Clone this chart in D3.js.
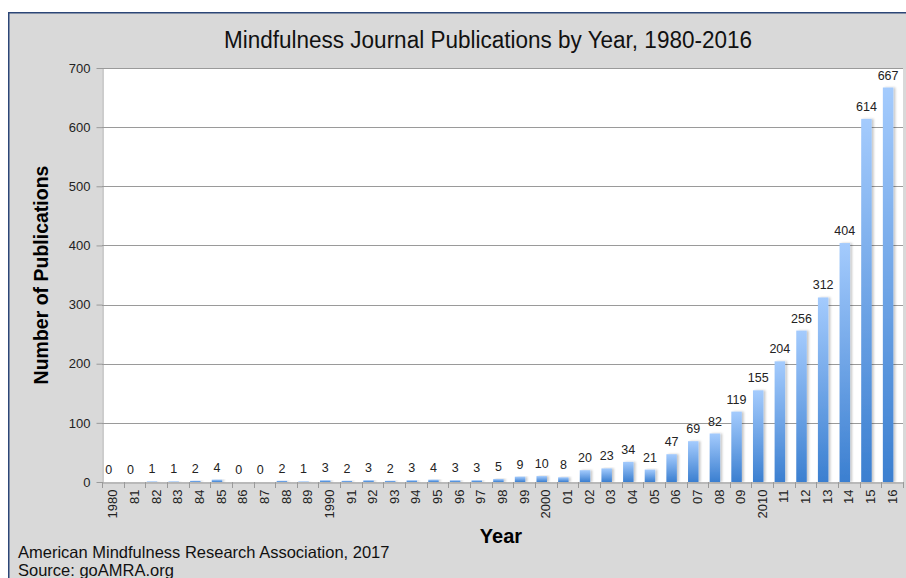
<!DOCTYPE html>
<html>
<head>
<meta charset="utf-8">
<script src="https://cdn.jsdelivr.net/npm/d3@7/dist/d3.min.js"></script>
<style>
  html, body { margin: 0; padding: 0; background: #ffffff; }
  svg { display: block; }
  text { font-family: "Liberation Sans", Arial, sans-serif; }
</style>
</head>
<body>
<svg id="chart" width="906" height="578"></svg>
<script>
// Publication counts per year, 1980-2016
const years = [1980, 1981, 1982, 1983, 1984, 1985, 1986, 1987, 1988, 1989,
               1990, 1991, 1992, 1993, 1994, 1995, 1996, 1997, 1998, 1999,
               2000, 2001, 2002, 2003, 2004, 2005, 2006, 2007, 2008, 2009,
               2010, 2011, 2012, 2013, 2014, 2015, 2016];
const yearLabels = ["1980", "81", "82", "83", "84", "85", "86", "87", "88", "89",
                    "1990", "91", "92", "93", "94", "95", "96", "97", "98", "99",
                    "2000", "01", "02", "03", "04", "05", "06", "07", "08", "09",
                    "2010", "11", "12", "13", "14", "15", "16"];
const publications = [0, 0, 1, 1, 2, 4, 0, 0, 2, 1,
                      3, 2, 3, 2, 3, 4, 3, 3, 5, 9,
                      10, 8, 20, 23, 34, 21, 47, 69, 82, 119,
                      155, 204, 256, 312, 404, 614, 667];
const yTicks = [0, 100, 200, 300, 400, 500, 600, 700];

const svg = d3.select("#chart");
const W = 906, H = 578;
const plot = { left: 102, right: 903, top: 68, bottom: 482 };

// Gray chart frame with dark border on top and left
svg.append("rect").attr("x", 8).attr("y", 12).attr("width", W - 8).attr("height", H - 12)
  .attr("fill", "#d9d9d9");
svg.append("path").attr("d", `M8.75,${H} V12.75 H${W}`)
  .attr("fill", "none").attr("stroke", "#2c4677").attr("stroke-width", 1.5);

// Plot area
svg.append("rect").attr("x", plot.left).attr("y", plot.top)
  .attr("width", plot.right - plot.left).attr("height", plot.bottom - plot.top)
  .attr("fill", "#ffffff");

const x = d3.scaleBand().domain(years).range([plot.left, plot.right]).padding(0);
const y = d3.scaleLinear().domain([0, 700]).range([plot.bottom, plot.top]);

const defs = svg.append("defs");
const grad = defs.append("linearGradient").attr("id", "barFill")
  .attr("x1", 0).attr("y1", 0).attr("x2", 0).attr("y2", 1);
grad.append("stop").attr("offset", "0%").attr("stop-color", "#a4cbfd");
grad.append("stop").attr("offset", "100%").attr("stop-color", "#3b7fd0");
const shadow = defs.append("filter").attr("id", "barShadow")
  .attr("x", "-50%").attr("y", "-10%").attr("width", "200%").attr("height", "120%");
shadow.append("feDropShadow").attr("dx", 2).attr("dy", 0).attr("stdDeviation", 1.2)
  .attr("flood-color", "#000").attr("flood-opacity", 0.22);

// Horizontal gridlines
svg.append("g").selectAll("line").data(yTicks.filter(d => d > 0)).join("line")
  .attr("x1", plot.left).attr("x2", plot.right)
  .attr("y1", d => Math.round(y(d)) + 0.5).attr("y2", d => Math.round(y(d)) + 0.5)
  .attr("stroke", "#9a9a9a").attr("stroke-width", 1.2);

// Y axis
const yAxis = svg.append("g").attr("transform", `translate(${plot.left + 0.5},0)`)
  .call(d3.axisLeft(y).tickValues(yTicks).tickSize(6).tickPadding(6).tickSizeOuter(0));
yAxis.select(".domain").attr("stroke", "#9a9a9a");
yAxis.selectAll(".tick line").attr("stroke", "#9a9a9a");
yAxis.selectAll(".tick text").attr("font-size", 13).attr("fill", "#222")
  .attr("font-family", "'Liberation Sans', Arial, sans-serif");

// Bars sit at the left of each year slot
const barOffset = 1.5, barWidth = 10.5;
svg.append("g").selectAll("rect").data(years).join("rect")
  .attr("x", (d) => x(d) + barOffset)
  .attr("y", (d, i) => y(publications[i]))
  .attr("width", barWidth)
  .attr("height", (d, i) => plot.bottom - y(publications[i]))
  .attr("fill", "url(#barFill)")
  .attr("filter", "url(#barShadow)");

// Value labels
svg.append("g").selectAll("text").data(years).join("text")
  .attr("x", d => x(d) + barOffset + barWidth / 2)
  .attr("y", (d, i) => y(publications[i]) - 8)
  .attr("text-anchor", "middle")
  .attr("font-family", "'Open Sans', sans-serif")
  .attr("font-size", 12.5)
  .attr("fill", "#222")
  .text((d, i) => publications[i]);

// X axis with year labels rotated
const xAxis = svg.append("g").attr("transform", `translate(0,${plot.bottom + 0.5})`)
  .call(d3.axisBottom(x).tickFormat((d, i) => yearLabels[i]).tickSize(0).tickSizeOuter(0));
xAxis.select(".domain").attr("stroke", "#9a9a9a").attr("stroke-width", 1.2);
xAxis.selectAll(".tick text")
  .attr("font-size", 13).attr("fill", "#222")
  .attr("font-family", "'Liberation Sans', Arial, sans-serif")
  .attr("text-anchor", "end")
  .attr("dy", "0.35em")
  .attr("transform", "translate(0,7) rotate(-90)")
  .attr("x", 0).attr("y", 0);
// Slot boundary tick marks
svg.append("g").selectAll("line").data(years.concat(["end"])).join("line")
  .attr("x1", d => Math.round(d === "end" ? plot.right : x(d)) + 0.5)
  .attr("x2", d => Math.round(d === "end" ? plot.right : x(d)) + 0.5)
  .attr("y1", plot.bottom).attr("y2", plot.bottom + 6)
  .attr("stroke", "#9a9a9a");

// Titles
svg.append("text").attr("x", 488).attr("y", 48).attr("text-anchor", "middle")
  .attr("font-size", 23).attr("fill", "#111")
  .attr("textLength", 528).attr("lengthAdjust", "spacingAndGlyphs")
  .text("Mindfulness Journal Publications by Year, 1980-2016");
svg.append("text").attr("transform", "translate(48,275) rotate(-90)")
  .attr("text-anchor", "middle").attr("font-size", 19.5).attr("font-weight", "bold")
  .attr("fill", "#000").text("Number of Publications");
svg.append("text").attr("x", 501).attr("y", 543).attr("text-anchor", "middle")
  .attr("font-size", 20).attr("font-weight", "bold").attr("fill", "#000").text("Year");

// Attribution
svg.append("text").attr("x", 18).attr("y", 558).attr("font-size", 16.5).attr("fill", "#111")
  .text("American Mindfulness Research Association, 2017");
svg.append("text").attr("x", 18).attr("y", 576).attr("font-size", 16.5).attr("fill", "#111")
  .text("Source: goAMRA.org");
</script>
</body>
</html>
